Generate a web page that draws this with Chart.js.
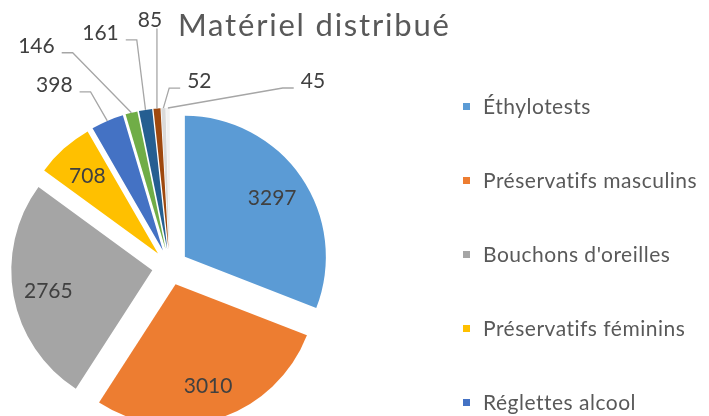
<!DOCTYPE html>
<html>
<head>
<meta charset="utf-8">
<script src="https://cdn.jsdelivr.net/npm/chart.js@4.4.0/dist/chart.umd.min.js"></script>
<style>
    body { margin: 0; background: #fff; overflow: hidden; }
    #wrap { position: relative; width: 709px; height: 416px; overflow: hidden; font-family: Lato, "Open Sans", sans-serif; }
    #chart { position: absolute; left: 0; top: 0; }
    #title { position: absolute; left: 178px; top: 6px; font-size: 31px; line-height: 1.2; letter-spacing: 1.8px; color: #595959; white-space: nowrap; }
    #legend { position: absolute; left: 463px; top: 0; width: 246px; height: 416px; overflow: hidden; }
    .item { position: absolute; left: 0; height: 24px; display: flex; align-items: center; font-size: 21px; line-height: 24px; letter-spacing: 0.5px; color: #595959; white-space: nowrap; }
    .swatch { width: 7px; height: 7px; margin-right: 13px; flex: none; }
</style>
</head>
<body>
<div id="wrap">
    <canvas id="chart" width="709" height="416"></canvas>
    <div id="title">Matériel distribué</div>
    <div id="legend"></div>
</div>
<script>
// categories visible in the legend (the rest are cut off by the picture)
const categories = ["Éthylotests", "Préservatifs masculins", "Bouchons d'oreilles", "Préservatifs féminins", "Réglettes alcool"];
const values = [3297, 3010, 2765, 708, 398, 146, 161, 85, 52, 45];
const colors = ["#5B9BD5", "#ED7D31", "#A5A5A5", "#FFC000", "#4472C4", "#70AD47", "#255E91", "#9E480E", "#DADADA", "#F2F2F2"];

// how far each slice is pulled out of the pie
const EXPLODE = 18;
const INSIDE_RATIO = 0.75;
// label offset from the slice edge, null means label inside the slice
const labelOffsets = [null, null, null, null, [-53, -37], [-95, -68], [-45, -78], [-7, -90], [36, -28], [145, -28]];

// Draw each arc moved outward by the same distance
const explodePlugin = {
    id: "explode",
    beforeDatasetDraw(chart, args) {
        const ctx = chart.ctx;
        args.meta.data.forEach(arc => {
            const mid = (arc.startAngle + arc.endAngle) / 2;
            ctx.save();
            ctx.translate(Math.cos(mid) * EXPLODE, Math.sin(mid) * EXPLODE);
            arc.draw(ctx);
            ctx.restore();
        });
        return false;
    }
};

// Data labels with leader lines
const labelPlugin = {
    id: "sliceLabels",
    afterDatasetsDraw(chart) {
        const ctx = chart.ctx;
        const arcs = chart.getDatasetMeta(0).data;
        ctx.save();
        ctx.font = '21px Lato, "Open Sans", sans-serif';
        ctx.fillStyle = "#404040";
        ctx.textAlign = "center";
        ctx.textBaseline = "alphabetic";
        ctx.strokeStyle = "#a6a6a6";
        ctx.lineWidth = 1.3;
        arcs.forEach((arc, i) => {
            const mid = (arc.startAngle + arc.endAngle) / 2;
            const cx = arc.x + Math.cos(mid) * EXPLODE;
            const cy = arc.y + Math.sin(mid) * EXPLODE;
            const text = String(values[i]);
            const out = labelOffsets[i];
            if (!out) {
                const r = arc.outerRadius * INSIDE_RATIO;
                ctx.fillText(text, cx + Math.cos(mid) * r, cy + Math.sin(mid) * r + 8);
                return;
            }
            const ax = cx + Math.cos(mid) * arc.outerRadius;
            const ay = cy + Math.sin(mid) * arc.outerRadius;
            const lx = ax + out[0];
            const ly = ay + out[1];
            ctx.fillText(text, lx, ly + 8);
            const w = ctx.measureText(text).width;
            ctx.beginPath();
            if (Math.abs(out[0]) < 15) {
                ctx.moveTo(ax, ly + 10);
                ctx.lineTo(ax, ay);
            } else {
                const side = out[0] < 0 ? 1 : -1;
                const sx = lx + side * (w / 2 + 7);
                const sy = ly + 8;
                ctx.moveTo(sx, sy);
                ctx.lineTo(sx + side * 11, sy);
                ctx.lineTo(ax, ay);
            }
            ctx.stroke();
        });
        ctx.restore();
    }
};

function buildLegend() {
    const legend = document.getElementById("legend");
    categories.forEach((name, i) => {
        const item = document.createElement("div");
        item.className = "item";
        item.style.top = (106 + 74 * i - 12) + "px";
        const swatch = document.createElement("span");
        swatch.className = "swatch";
        swatch.style.backgroundColor = colors[i];
        const label = document.createElement("span");
        label.textContent = name;
        item.appendChild(swatch);
        item.appendChild(label);
        legend.appendChild(item);
    });
}

document.fonts.load('21px Lato').then(() => {
    buildLegend();
    new Chart(document.getElementById("chart"), {
        type: "pie",
        data: {
            labels: categories,
            datasets: [{
                data: values,
                backgroundColor: colors,
                borderWidth: 0,
                hoverOffset: 0
            }]
        },
        options: {
            responsive: false,
            animation: false,
            devicePixelRatio: 1,
            layout: { padding: { left: 29, top: 126, right: 398, bottom: 8 } },
            plugins: {
                legend: { display: false },
                tooltip: { enabled: false }
            }
        },
        plugins: [explodePlugin, labelPlugin]
    });
});
</script>
</body>
</html>
